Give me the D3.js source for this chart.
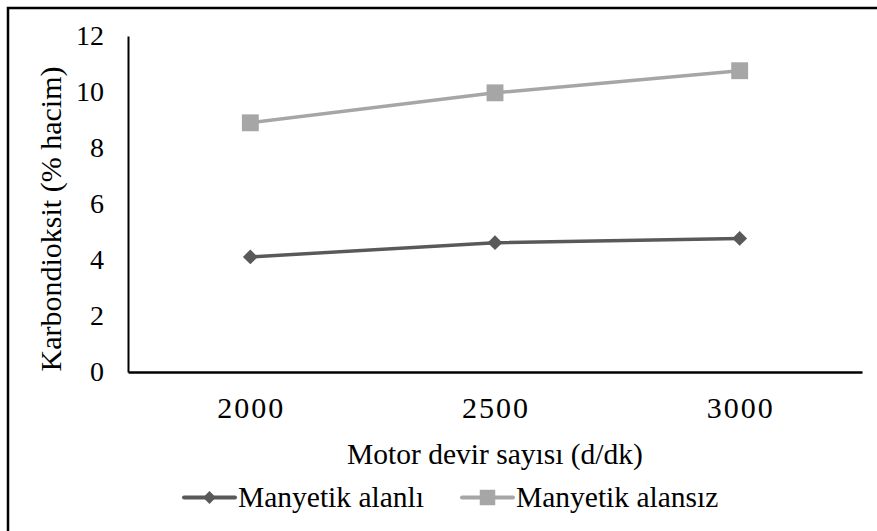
<!DOCTYPE html>
<html>
<head>
<meta charset="utf-8">
<script src="https://cdn.jsdelivr.net/npm/d3@7"></script>
</head>
<body style="margin:0;background:#fff">
<svg id="chart" width="877" height="531" style="display:block"></svg>
<script>
// Engine speed (rpm) categories
const categories = ["2000", "2500", "3000"];
// CO2 (% by volume) with and without the magnetic field
const withField = [4.11, 4.62, 4.77];
const withoutField = [8.9, 9.97, 10.76];
const yTicks = [0, 2, 4, 6, 8, 10, 12];
const seriesNames = ["Manyetik alanlı", "Manyetik alansız"];
const seriesColors = ["#595959", "#a6a6a6"];

const FONT = "Liberation Serif";
const FS = 29.5;

const svg = d3.select("#chart");
const W = 877, H = 531;

// outer frame (extends past the right and bottom edges)
svg.append("rect")
  .attr("x", 8).attr("y", 8)
  .attr("width", W + 20).attr("height", H + 20)
  .attr("fill", "none").attr("stroke", "#000").attr("stroke-width", 2.5);

const plot = { left: 128, right: 862, top: 36, bottom: 372 };

const x = d3.scaleBand().domain(categories).range([plot.left, plot.right]);
const y = d3.scaleLinear().domain([0, 12]).range([plot.bottom, plot.top]);

// y axis
const yAxis = svg.append("g")
  .attr("transform", `translate(${plot.left},0)`)
  .call(d3.axisLeft(y).tickValues(yTicks).tickSize(0).tickPadding(24));
yAxis.attr("font-family", FONT).attr("font-size", 28);
yAxis.select(".domain").attr("stroke", "#000").attr("stroke-width", 2);
yAxis.selectAll("text").attr("fill", "#000");

// x axis
const xAxis = svg.append("g")
  .attr("transform", `translate(0,${plot.bottom})`)
  .call(d3.axisBottom(x).tickSize(0).tickPadding(0));
xAxis.attr("font-family", FONT).attr("font-size", 30);
xAxis.select(".domain").attr("stroke", "#000").attr("stroke-width", 2.5);
xAxis.selectAll("text").attr("fill", "#000")
  .attr("letter-spacing", 2).attr("dy", null).attr("y", 46).attr("dx", 1);

// axis titles
svg.append("text")
  .attr("x", (plot.left + plot.right) / 2).attr("y", 464)
  .attr("text-anchor", "middle")
  .attr("font-family", FONT).attr("font-size", FS)
  .text("Motor devir sayısı (d/dk)");

svg.append("text")
  .attr("transform", "translate(61,219) rotate(-90)")
  .attr("text-anchor", "middle")
  .attr("font-family", FONT).attr("font-size", 30)
  .text("Karbondioksit (% hacim)");

const cx = d => x(d) + x.bandwidth() / 2;
const line = vals => d3.line().x((v, i) => cx(categories[i])).y(v => y(v))(vals);

const diamond = d3.symbol().type(d3.symbolDiamond2).size(140);
const square = d3.symbol().type(d3.symbolSquare).size(285);

// series without field (light, squares)
svg.append("path").attr("d", line(withoutField))
  .attr("fill", "none").attr("stroke", seriesColors[1]).attr("stroke-width", 3.5);
svg.selectAll(".sq").data(withoutField).enter().append("path")
  .attr("class", "sq")
  .attr("transform", (v, i) => `translate(${cx(categories[i])},${y(v)})`)
  .attr("d", square).attr("fill", seriesColors[1]);

// series with field (dark, diamonds)
svg.append("path").attr("d", line(withField))
  .attr("fill", "none").attr("stroke", seriesColors[0]).attr("stroke-width", 3.5);
svg.selectAll(".dm").data(withField).enter().append("path")
  .attr("class", "dm")
  .attr("transform", (v, i) => `translate(${cx(categories[i])},${y(v)})`)
  .attr("d", diamond).attr("fill", seriesColors[0]);

// legend
const legendItems = [
  { x: 184, name: seriesNames[0], color: seriesColors[0], sym: d3.symbol().type(d3.symbolDiamond2).size(105) },
  { x: 462, name: seriesNames[1], color: seriesColors[1], sym: d3.symbol().type(d3.symbolSquare).size(240) }
];
const ly = 497.5;
legendItems.forEach(it => {
  const g = svg.append("g");
  g.append("line").attr("x1", it.x).attr("x2", it.x + 51).attr("y1", ly).attr("y2", ly)
    .attr("stroke", it.color).attr("stroke-width", 4).attr("stroke-linecap", "round");
  g.append("path").attr("transform", `translate(${it.x + 25.5},${ly})`)
    .attr("d", it.sym).attr("fill", it.color);
  g.append("text").attr("x", it.x + 54).attr("y", 507)
    .attr("font-family", FONT).attr("font-size", FS).text(it.name);
});
</script>
</body>
</html>
